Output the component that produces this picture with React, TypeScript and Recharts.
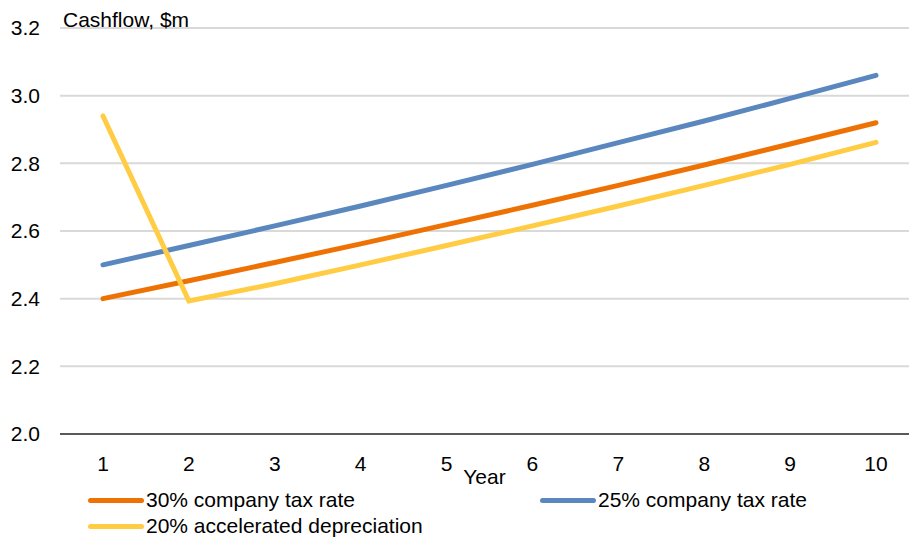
import { LineChart, Line, XAxis, YAxis, CartesianGrid } from 'recharts'

const years = ['1', '2', '3', '4', '5', '6', '7', '8', '9', '10']
const tax30 = [2.40, 2.453, 2.507, 2.562, 2.619, 2.676, 2.735, 2.795, 2.857, 2.92]
const tax25 = [2.50, 2.557, 2.615, 2.674, 2.735, 2.797, 2.861, 2.925, 2.992, 3.06]
const accel20 = [2.94, 2.393, 2.444, 2.50, 2.557, 2.615, 2.674, 2.735, 2.797, 2.862]
const yTicks = [2.0, 2.2, 2.4, 2.6, 2.8, 3.0, 3.2]

const series = [
  { key: 'tax30', name: '30% company tax rate', color: '#EE7203' },
  { key: 'tax25', name: '25% company tax rate', color: '#5B87BF' },
  { key: 'accel20', name: '20% accelerated depreciation', color: '#FFCC44' },
]

const data = years.map((year, i) => ({ year, tax30: tax30[i], tax25: tax25[i], accel20: accel20[i] }))

const FONT = '"Liberation Sans", Arial, sans-serif'
const FS = 21

function LegendItem({ s, left, top }: { s: typeof series[number]; left: number; top: number }) {
  return (
    <div style={{ position: 'absolute', left, top, display: 'flex', alignItems: 'center', height: 24 }}>
      <div style={{ width: 56, height: 5, borderRadius: 3, background: s.color, marginRight: 2 }} />
      <span style={{ fontSize: FS, color: '#000', whiteSpace: 'nowrap' }}>{s.name}</span>
    </div>
  )
}

export default function App() {
  return (
    <div style={{ position: 'absolute', left: 0, top: 0, width: 909, height: 537, background: '#fff', fontFamily: FONT, overflow: 'hidden' }}>
      <LineChart width={909} height={537} data={data} margin={{ top: 28, right: 0, left: 0, bottom: 53 }}>
        <CartesianGrid vertical={false} stroke="#D9D9D9" strokeWidth={2} />
        <XAxis
          dataKey="year"
          padding={{ left: 43, right: 33 }}
          tickLine={false}
          axisLine={{ stroke: '#595959', strokeWidth: 2 }}
          tick={{ fill: '#000', fontSize: FS }}
          tickMargin={16}
          height={50}
          label={{ value: 'Year', position: 'insideBottom', offset: 0, fill: '#000', fontSize: FS }}
        />
        <YAxis
          domain={[2, 3.2]}
          ticks={yTicks}
          width={60}
          tickLine={false}
          axisLine={false}
          tick={{ fill: '#000', fontSize: FS }}
          tickFormatter={(v: number) => v.toFixed(1)}
          tickMargin={14}
        />
        {series.map(s => (
          <Line
            key={s.key}
            type="linear"
            dataKey={s.key}
            name={s.name}
            stroke={s.color}
            strokeWidth={5}
            strokeLinecap="round"
            dot={false}
            activeDot={false}
            isAnimationActive={false}
          />
        ))}
      </LineChart>
      <div style={{ position: 'absolute', left: 63, top: 8, fontSize: FS, color: '#000', whiteSpace: 'nowrap' }}>Cashflow, $m</div>
      <LegendItem s={series[0]} left={88} top={488} />
      <LegendItem s={series[1]} left={540} top={488} />
      <LegendItem s={series[2]} left={88} top={514} />
    </div>
  )
}
